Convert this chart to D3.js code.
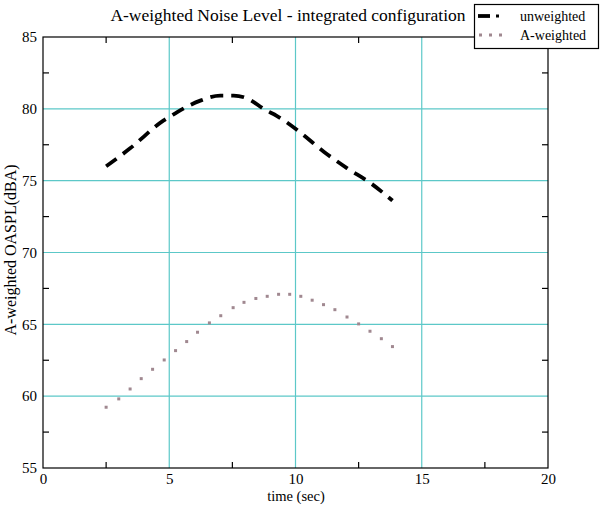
<!DOCTYPE html>
<html><head><meta charset="utf-8">
<script src="https://cdn.jsdelivr.net/npm/d3@7"></script>
<style>body{margin:0;background:#fff}svg{display:block}text{font-family:"Liberation Serif","Times New Roman",serif}</style>
</head><body><div id="c"></div>
<script>
const unweightedX = [2.5, 3.45, 4.78, 5.24, 5.7, 6.23, 7.02, 7.55, 8.08, 8.81, 9.27, 9.8, 10.2, 11.12, 12.05, 12.98, 13.84];
const unweightedY = [76.0, 77.25, 79.2, 79.69, 80.15, 80.57, 80.92, 80.92, 80.73, 79.92, 79.5, 78.88, 78.34, 77.02, 75.86, 74.82, 73.61];
const aWeightedX = [2.5, 3.0, 3.45, 3.89, 4.34, 4.8, 5.25, 5.69, 6.12, 6.59, 7.04, 7.53, 7.96, 8.43, 8.88, 9.33, 9.77, 10.21, 10.66, 11.11, 11.56, 12.04, 12.5, 12.95, 13.4, 13.84];
const aWeightedY = [59.23, 59.81, 60.5, 61.22, 61.87, 62.52, 63.17, 63.8, 64.45, 65.1, 65.6, 66.16, 66.53, 66.8, 66.95, 67.09, 67.09, 66.95, 66.68, 66.37, 66.02, 65.51, 65.03, 64.52, 64.0, 63.45];
const xTicks = [0, 5, 10, 15, 20];
const yTicks = [55, 60, 65, 70, 75, 80, 85];
const xMinor = [2.5, 7.5, 12.5, 17.5];
const yMinor = [57.5, 62.5, 67.5, 72.5, 77.5, 82.5];
const seriesNames = ["unweighted", "A-weighted"];
const titleText = "A-weighted Noise Level - integrated configuration";
const xLabel = "time (sec)";
const yLabel = "A-weighted OASPL(dBA)";

const W = 600, H = 510;
const L = 43, R = 548, T = 37, B = 468;
const svg = d3.select("#c").append("svg").attr("width", W).attr("height", H);
const x = d3.scaleLinear().domain([0, 20]).range([L, R]);
const y = d3.scaleLinear().domain([55, 85]).range([B, T]);
const grid = "#5cc8c8";

// grid
svg.append("g").selectAll("line").data(xTicks.slice(1, -1)).join("line")
  .attr("x1", d => x(d)).attr("x2", d => x(d)).attr("y1", T).attr("y2", B)
  .attr("stroke", grid).attr("stroke-width", 1.2);
svg.append("g").selectAll("line").data(yTicks.slice(1, -1)).join("line")
  .attr("y1", d => y(d)).attr("y2", d => y(d)).attr("x1", L).attr("x2", R)
  .attr("stroke", grid).attr("stroke-width", 1.2);

// frame
svg.append("rect").attr("x", L).attr("y", T).attr("width", R - L).attr("height", B - T)
  .attr("fill", "none").attr("stroke", "#000").attr("stroke-width", 1.2);

// minor ticks (inward on all sides)
const tk = 6;
const tg = svg.append("g").attr("stroke", "#000").attr("stroke-width", 1.2);
xMinor.forEach(v => {
  tg.append("line").attr("x1", x(v)).attr("x2", x(v)).attr("y1", B).attr("y2", B - tk);
  tg.append("line").attr("x1", x(v)).attr("x2", x(v)).attr("y1", T).attr("y2", T + tk);
});
yMinor.forEach(v => {
  tg.append("line").attr("y1", y(v)).attr("y2", y(v)).attr("x1", L).attr("x2", L + tk);
  tg.append("line").attr("y1", y(v)).attr("y2", y(v)).attr("x1", R).attr("x2", R - tk);
});

// axis labels via d3 axes (no tick lines)
const xAxis = svg.append("g").attr("transform", `translate(0,${B})`)
  .call(d3.axisBottom(x).tickValues(xTicks).tickSize(0).tickPadding(5).tickFormat(d3.format("d")));
xAxis.select(".domain").remove();
xAxis.selectAll("text").attr("font-size", 15).attr("font-family", "Liberation Serif, serif").attr("fill", "#000");
const yAxis = svg.append("g").attr("transform", `translate(${L},0)`)
  .call(d3.axisLeft(y).tickValues(yTicks).tickSize(0).tickPadding(6).tickFormat(d3.format("d")));
yAxis.select(".domain").remove();
yAxis.selectAll("text").attr("font-size", 15).attr("font-family", "Liberation Serif, serif").attr("fill", "#000");

// title and labels
svg.append("text").attr("x", 288).attr("y", 21).attr("text-anchor", "middle")
  .attr("font-size", 17.5).text(titleText);
svg.append("text").attr("x", 296).attr("y", 501).attr("text-anchor", "middle")
  .attr("font-size", 14.5).text(xLabel);
svg.append("text").attr("transform", `translate(16,250) rotate(-90)`)
  .attr("text-anchor", "middle").attr("font-size", 16).text(yLabel);

// unweighted line
const uData = unweightedX.map((v, i) => [v, unweightedY[i]]);
svg.append("path").datum(uData)
  .attr("d", d3.line().x(d => x(d[0])).y(d => y(d[1])).curve(d3.curveMonotoneX))
  .attr("fill", "none").attr("stroke", "#000").attr("stroke-width", 3.8)
  .attr("stroke-dasharray", "13,8");

// A-weighted dots
const aData = aWeightedX.map((v, i) => [v, aWeightedY[i]]);
const dotColor = "#a08890";
svg.append("g").selectAll("rect").data(aData).join("rect")
  .attr("x", d => x(d[0]) - 1.5).attr("y", d => y(d[1]) - 1.5)
  .attr("width", 3).attr("height", 3).attr("fill", dotColor);

// legend
const lg = svg.append("g");
lg.append("rect").attr("x", 474.5).attr("y", 4.5).attr("width", 124).attr("height", 44)
  .attr("fill", "#fff").attr("stroke", "#000").attr("stroke-width", 1.2);
lg.append("line").attr("x1", 478).attr("x2", 490).attr("y1", 16).attr("y2", 16)
  .attr("stroke", "#000").attr("stroke-width", 3.8);
lg.append("rect").attr("x", 496).attr("y", 14.5).attr("width", 3).attr("height", 3).attr("fill", "#000");
[479, 489, 499].forEach(px => lg.append("rect").attr("x", px).attr("y", 33.5)
  .attr("width", 3).attr("height", 3).attr("fill", dotColor));
lg.append("text").attr("x", 520).attr("y", 21).attr("font-size", 14).text(seriesNames[0]);
lg.append("text").attr("x", 520).attr("y", 40).attr("font-size", 14).text(seriesNames[1]);
</script></body></html>
